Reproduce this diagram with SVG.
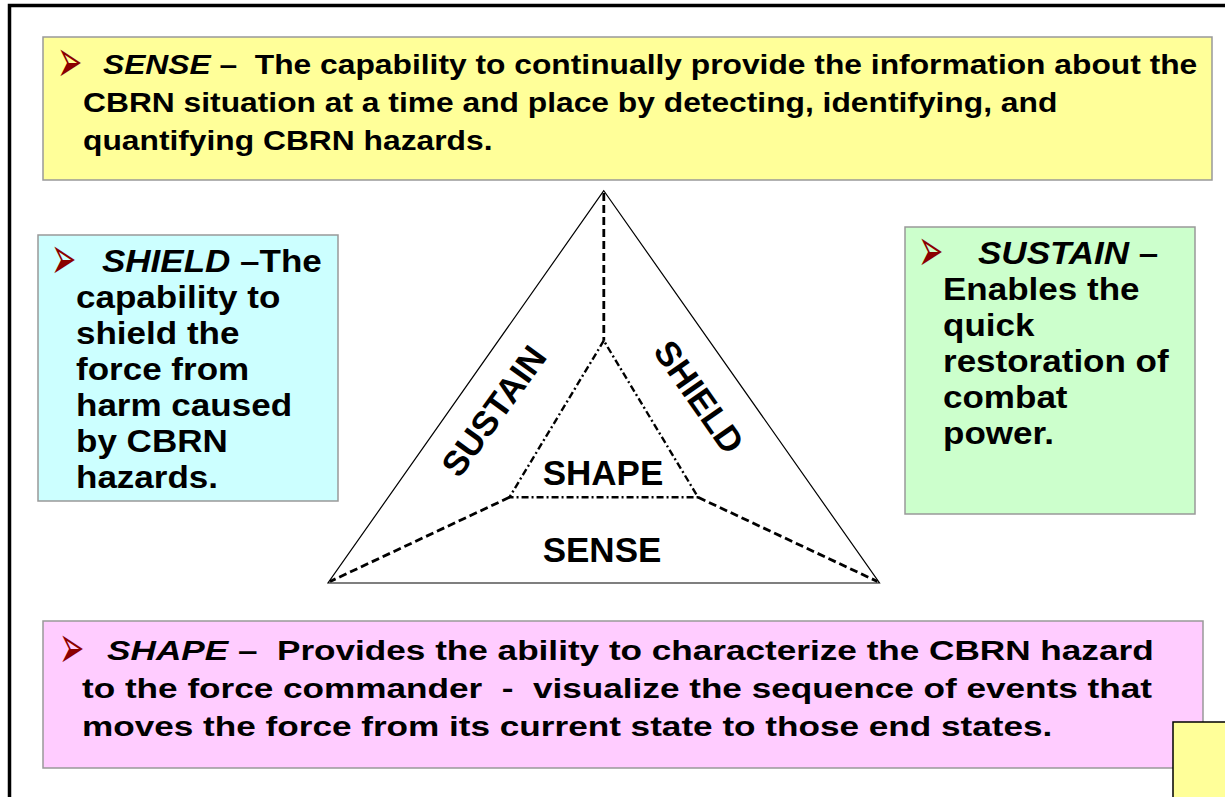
<svg xmlns="http://www.w3.org/2000/svg" width="1225" height="797" viewBox="0 0 1225 797">
<style>
  .t { font-family: "Liberation Sans", Arial, sans-serif; font-weight: bold; fill: #000; white-space: pre; }
  .b { font-size: 28px; }
  .s { font-size: 31px; }
  .lab { font-size: 35px; }
  .i { font-style: italic; }
  .bul { font-family: "DejaVu Sans", sans-serif; font-size: 42px; fill: #8B0000; }
  .box { stroke: #999; stroke-width: 1.5; }
  .edge { fill: none; stroke: #000; }
  .dash { stroke-width: 2.8; stroke-dasharray: 8 4; }
  .dd { stroke-width: 2.4; stroke-dasharray: 7 3 2 3; }
</style>
<rect x="0" y="0" width="1225" height="797" fill="#fff"/>
<rect id="frame" x="9.5" y="5.5" width="1300" height="900" fill="none" stroke="#000" stroke-width="3.5"/>

<g id="sense-box">
  <rect class="box" x="43" y="37" width="1169" height="143" fill="#FFFF99"/>
  <text class="bul" transform="translate(57,82) scale(0.72,1.45)">➢</text>
  <g transform="translate(83,0) scale(1.135,1)">
    <text class="t b" x="17.6" y="74"><tspan class="i">SENSE</tspan> –  The capability to continually provide the information about the</text>
    <text class="t b" x="0" y="112">CBRN situation at a time and place by detecting, identifying, and</text>
    <text class="t b" x="0" y="150">quantifying CBRN hazards.</text>
  </g>
</g>

<g id="shield-box">
  <rect class="box" x="38" y="235" width="300" height="266" fill="#CCFFFF"/>
  <text class="bul" transform="translate(51,278.5) scale(0.72,1.45)">➢</text>
  <g transform="translate(76,0) scale(1.13,1)">
    <text class="t s" x="23" y="272"><tspan class="i">SHIELD</tspan> –The</text>
    <text class="t s" x="0" y="308">capability to</text>
    <text class="t s" x="0" y="344">shield the</text>
    <text class="t s" x="0" y="380">force from</text>
    <text class="t s" x="0" y="416">harm caused</text>
    <text class="t s" x="0" y="452">by CBRN</text>
    <text class="t s" x="0" y="488">hazards.</text>
  </g>
</g>

<g id="sustain-box">
  <rect class="box" x="905" y="227" width="290" height="287" fill="#CCFFCC"/>
  <text class="bul" transform="translate(918,271) scale(0.72,1.45)">➢</text>
  <g transform="translate(943,0) scale(1.13,1)">
    <text class="t s" x="31" y="264"><tspan class="i">SUSTAIN</tspan> –</text>
    <text class="t s" x="0" y="300">Enables the</text>
    <text class="t s" x="0" y="336">quick</text>
    <text class="t s" x="0" y="372">restoration of</text>
    <text class="t s" x="0" y="408">combat</text>
    <text class="t s" x="0" y="444">power.</text>
  </g>
</g>

<g id="shape-box">
  <rect class="box" x="43" y="621" width="1160" height="147" fill="#FFCCFF"/>
  <text class="bul" transform="translate(59,668) scale(0.72,1.45)">➢</text>
  <g transform="translate(82,0) scale(1.255,1)">
    <text class="t b" x="20" y="660"><tspan class="i">SHAPE</tspan> –  Provides the ability to characterize the CBRN hazard</text>
    <text class="t b" x="0" y="698">to the force commander  -  visualize the sequence of events that</text>
    <text class="t b" x="0" y="736">moves the force from its current state to those end states.</text>
  </g>
</g>

<g id="corner-box">
  <rect x="1173" y="722" width="80" height="100" fill="#FFFF99" stroke="#000" stroke-width="1.5"/>
</g>

<g id="triangle">
  <polygon class="edge" points="603.8,190.7 328,583 879.5,583" stroke-width="1.2"/>
</g>

<g id="connectors">
  <line class="edge dash" x1="603.8" y1="193" x2="603.8" y2="340.7"/>
  <line class="edge dash" x1="509.4" y1="497.3" x2="330" y2="581.5"/>
  <line class="edge dash" x1="698.1" y1="497.3" x2="877.5" y2="581.5"/>
  <polygon class="edge dd" points="603.8,340.7 509.4,497.3 698.1,497.3"/>
</g>

<g id="label-sustain">
  <text class="t lab" text-anchor="middle" transform="translate(494,411) rotate(-54)" y="12">SUSTAIN</text>
</g>
<g id="label-shield">
  <text class="t lab" text-anchor="middle" transform="translate(699,397) rotate(55)" y="12">SHIELD</text>
</g>
<g id="label-shape">
  <text class="t lab" text-anchor="middle" x="603" y="485">SHAPE</text>
</g>
<g id="label-sense">
  <text class="t lab" text-anchor="middle" x="602" y="562">SENSE</text>
</g>
</svg>
